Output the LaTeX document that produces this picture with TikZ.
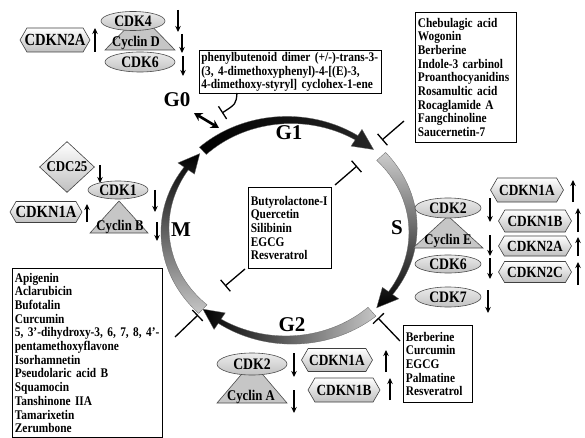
\documentclass[tikz,border=0pt]{standalone}
\usepackage{fontspec}
\setmainfont{Liberation Serif}[FakeStretch=0.86]
\newfontfamily\bigfont{Liberation Serif}
\usetikzlibrary{shapes.geometric,shapes.symbols,arrows.meta}

\tikzset{
 lst/.style={draw, line width=0.8pt, align=left, anchor=north west, inner xsep=2.5pt, inner ysep=2pt,
   font=\fontsize{13.2}{13.7}\selectfont\bfseries},
 ell/.style={ellipse, draw=black!70, line width=0.6pt, top color=gray!15, bottom color=gray!48, inner sep=0pt,
   font=\fontsize{16}{17}\selectfont\bfseries},
 hexa/.style={signal, signal to=west and east, signal pointer angle=120, draw=black!75, line width=0.6pt,
   top color=white, bottom color=gray!50, inner xsep=-3pt, inner ysep=0pt,
   font=\fontsize{15.5}{16}\selectfont\bfseries},
 hexL/.style={hexa, font=\fontsize{17}{18}\selectfont\bfseries},
 dia/.style={diamond, draw=black!75, line width=0.6pt, top color=white, bottom color=gray!50, inner sep=0pt,
   font=\fontsize{15}{16}\selectfont\bfseries},
 tri/.style={draw=black!70, line width=0.6pt, fill=gray!45},
 lbl/.style={inner sep=0pt, font=\fontsize{14.8}{16}\selectfont\bfseries},
 ind/.style={line width=1.3pt, -{Stealth[length=6pt,width=5.5pt]}},
 inh/.style={line width=1.3pt, -{Bar[width=15pt,line width=1.3pt]}},
 phase/.style={inner sep=0pt, font=\bigfont\fontsize{21}{24}\selectfont\bfseries},
 dbl/.style={line width=2.6pt, {Stealth[length=8pt,width=9pt]}-{Stealth[length=8pt,width=9pt]}},
}
\newcommand\lne[1]{\mbox{#1}}

\newcommand\cycarc[6]{%
 \path[#6, draw=black!60, line width=0.3pt]
  plot[domain=#1:#2, samples=40] ({ex(\x, hw(\x,#1,#2,#3,#4))},{ey(\x, hw(\x,#1,#2,#3,#4))})
  -- ({ex(#2,10)},{ey(#2,10)}) -- ({ex(#5,0)},{ey(#5,0)}) -- ({ex(#2,-10)},{ey(#2,-10)})
  -- plot[domain=#2:#1, samples=40] ({ex(\x, -hw(\x,#1,#2,#3,#4))},{ey(\x, -hw(\x,#1,#2,#3,#4))}) -- cycle;
}

\begin{document}
\begin{tikzpicture}[x=1pt,y=-1pt,
  declare function={ex(\t,\d)=289+(124+\d)*cos(\t); ey(\t,\d)=230-(110+\d)*sin(\t);
                    hw(\t,\ta,\tb,\wa,\wb)=\wa+(\wb-\wa)*(\t-\ta)/(\tb-\ta);}]
\useasboundingbox (0,0) rectangle (585,438);
\fill[white] (0,0) rectangle (585,438);

% ---- cell cycle ring ----
\cycarc{134}{57}{5}{2.5}{47}{left color=black, middle color=gray!70!black, right color=black!85}
\cycarc{42}{-35}{6}{2.5}{-45}{top color=gray!40, bottom color=black}
\cycarc{-48}{-124}{6}{2.5}{-134}{right color=gray!45, left color=black}
\cycarc{226}{146}{6}{2.5}{136}{bottom color=gray!45, top color=black}

\node[phase] (G0) at (177,100) {G0};
\node[phase] (G1) at (289,133) {G1};
\node[phase] (G2) at (292,325) {G2};
\node[phase] (M) at (181,230) {M};
\node[phase] (S) at (397,228) {S};

\coordinate (g0a) at (194,113);
\coordinate (g0b) at (219,128);
\draw[dbl] (g0a) -- (g0b);

% ---- compound boxes ----
\node[lst, text width=178pt, minimum height=43pt, inner xsep=2pt] (phen) at (199,50)
 {\lne{phenylbutenoid dimer (+/-)-trans-3-}\\\lne{(3, 4-dimethoxyphenyl)-4-[(E)-3,}\\\lne{4-dimethoxy-styryl] cyclohex-1-ene}};
\node[lst, text width=96pt, minimum height=130pt] (cheb) at (415,12)
 {Chebulagic acid\\Wogonin\\Berberine\\Indole-3 carbinol\\Proanthocyanidins\\Rosamultic acid\\Rocaglamide A\\Fangchinoline\\Saucernetin-7};
\node[lst, text width=78pt, minimum height=81pt] (buty) at (248,187)
 {Butyrolactone-I\\Quercetin\\Silibinin\\EGCG\\Resveratrol};
\node[lst, text width=145pt, minimum height=169pt] (apig) at (12,268)
 {Apigenin\\Aclarubicin\\Bufotalin\\Curcumin\\\lne{5, 3'-dihydroxy-3, 6, 7, 8, 4'-}\\pentamethoxyflavone\\Isorhamnetin\\Pseudolaric acid B\\Squamocin\\Tanshinone IIA\\Tamarixetin\\Zerumbone};
\node[lst, text width=64pt, minimum height=77pt] (berb) at (403,325)
 {Berberine\\Curcumin\\EGCG\\Palmatine\\Resveratrol};

% ---- inhibition lines ----
\coordinate (phenS) at (237,93);
\coordinate (phenE) at (222,113);
\draw[inh] (phenS) .. controls (236,104) .. (phenE);
\coordinate (chebS) at (404,121);
\coordinate (chebE) at (382,140);
\draw[inh] (chebS) -- (chebE);
\coordinate (butyS) at (335,185);
\coordinate (butyE) at (357,166);
\draw[inh] (butyS) -- (butyE);
\coordinate (butyS2) at (245,269);
\coordinate (butyE2) at (225,286);
\draw[inh] (butyS2) -- (butyE2);
\coordinate (apigS) at (175,337);
\coordinate (apigE) at (198,315);
\draw[inh] (apigS) -- (apigE);
\coordinate (berbS) at (400,341);
\coordinate (berbE) at (378,318);
\draw[inh] (berbS) -- (berbE);

% ---- G0 / G1 complex (top left) ----
\draw[tri] (105,50) -- (140,14) -- (175,50) -- cycle;
\node[ell, minimum width=64pt, minimum height=19pt] (cdk4) at (133,21) {CDK4};
\node[ell, minimum width=70pt, minimum height=20pt] (cdk6a) at (140,62) {CDK6};
\node[lbl] (cycD) at (136,43) {Cyclin D};
\node[hexL, minimum width=70pt, minimum height=24pt] (n2aT) at (55,40) {CDKN2A};
\draw[ind] (178,10) -- (178,32);
\draw[ind] (182,34) -- (182,53);
\draw[ind] (183,56) -- (183,76);
\draw[ind] (95,52) -- (95,28);

% ---- M complex ----
\node[dia, minimum width=55pt, minimum height=29pt] (cdc25) at (67,167) {CDC25};
\draw[tri] (90,233) -- (119,201) -- (148,233) -- cycle;
\node[ell, minimum width=60pt, minimum height=18pt] (cdk1) at (118,190) {CDK1};
\node[lbl] (cycB) at (120,227) {Cyclin B};
\node[hexL, minimum width=72pt, minimum height=21pt] (n1aM) at (46,212) {CDKN1A};
\draw[ind] (100,165) -- (100,183);
\draw[ind] (155,190) -- (155,212);
\draw[ind] (157,222) -- (157,241);
\draw[ind] (87,222) -- (87,204);

% ---- S complex ----
\draw[tri] (413,248) -- (448,216) -- (483,248) -- cycle;
\node[ell, minimum width=66pt, minimum height=20pt] (cdk2S) at (448,208) {CDK2};
\node[lbl] (cycE) at (448,241) {Cyclin E};
\node[ell, minimum width=66pt, minimum height=18pt] (cdk6S) at (448,264) {CDK6};
\node[ell, minimum width=66pt, minimum height=20pt] (cdk7) at (448,297) {CDK7};
\node[hexa, minimum width=73pt, minimum height=24pt] (n1aS) at (527,190) {CDKN1A};
\node[hexa, minimum width=73pt, minimum height=22pt] (n1bS) at (535,221) {CDKN1B};
\node[hexa, minimum width=73pt, minimum height=20pt] (n2aS) at (535,246) {CDKN2A};
\node[hexa, minimum width=73pt, minimum height=21pt] (n2cS) at (535,272) {CDKN2C};
\draw[ind] (490,198) -- (490,222);
\draw[ind] (490,235) -- (490,256);
\draw[ind] (490,258) -- (490,279);
\draw[ind] (488,290) -- (488,313);
\draw[ind] (573,202) -- (573,180);
\draw[ind] (578,232) -- (578,208);
\draw[ind] (578,256) -- (578,237);
\draw[ind] (578,285) -- (578,262);

% ---- G2 complex ----
\draw[tri] (217,403) -- (252,362) -- (287,403) -- cycle;
\node[ell, minimum width=70pt, minimum height=22pt] (cdk2G) at (252,364) {CDK2};
\node[lbl] (cycA) at (251,397) {Cyclin A};
\node[hexa, minimum width=71pt, minimum height=23pt] (n1aG) at (337,360) {CDKN1A};
\node[hexa, minimum width=72pt, minimum height=24pt] (n1bG) at (344,390) {CDKN1B};
\draw[ind] (294,353) -- (294,377);
\draw[ind] (294,390) -- (294,413);
\draw[ind] (386,372) -- (386,350);
\draw[ind] (390,400) -- (390,378);
\end{tikzpicture}
\end{document}
